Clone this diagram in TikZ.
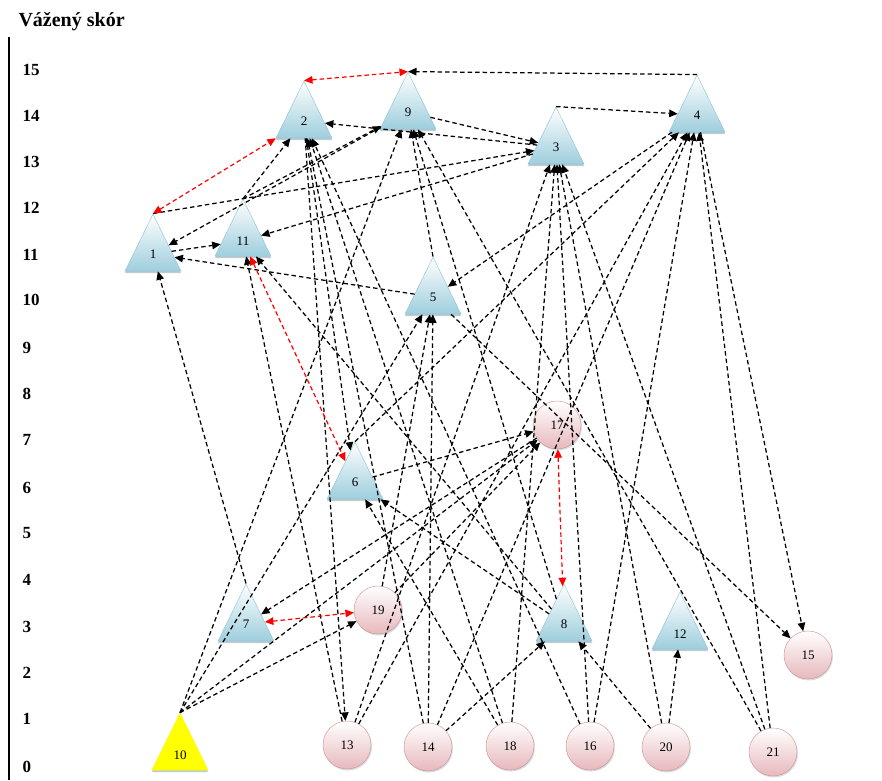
\documentclass[tikz,border=0pt]{standalone}
\usepackage{fontspec}
\setmainfont{Liberation Serif}
\usetikzlibrary{shapes.geometric,arrows.meta,shadows}

\definecolor{triblue}{RGB}{158,206,221}
\definecolor{triline}{RGB}{138,194,212}
\definecolor{circpink}{RGB}{231,184,188}
\definecolor{circline}{RGB}{206,144,144}
\definecolor{shadowgray}{RGB}{150,170,180}

\tikzset{
    tri/.style={isosceles triangle, isosceles triangle stretches, shape border rotate=90,
        minimum width=56, minimum height=57, inner sep=0pt, draw=triline,
        top color=white, bottom color=triblue, font=\fontsize{13}{15}\selectfont,
        drop shadow={shadow xshift=0pt, shadow yshift=-2pt, fill=shadowgray, opacity=0.6}},
    circ/.style={circle, minimum size=48, inner sep=0pt, draw=circline,
        top color=white, bottom color=circpink, font=\fontsize{13}{15}\selectfont,
        drop shadow={shadow xshift=1pt, shadow yshift=-1.5pt, fill=shadowgray, opacity=0.4}},
    axlab/.style={anchor=west, font=\fontsize{17}{20}\selectfont\bfseries},
    arr/.style={black, line width=1.25pt, dash pattern=on 4.5pt off 3pt,
        -{Triangle[length=8.5pt,width=7.5pt]}},
    rarr/.style={red, line width=1.2pt, dash pattern=on 4.5pt off 3pt,
        {Triangle[length=8.5pt,width=7.5pt]}-{Triangle[length=8.5pt,width=7.5pt]}}
}

\begin{document}
\begin{tikzpicture}[x=1pt, y=-1pt]
    \useasboundingbox (0,0) rectangle (882,780);

    % scale
    \draw[line width=2.2pt] (9,37) -- (9,780);
    \node[anchor=west, font=\fontsize{20}{23}\selectfont\bfseries] (title) at (15,22) {Vážený skór};
    \node[axlab] (s15) at (19,70) {15};
    \node[axlab] (s14) at (19,116) {14};
    \node[axlab] (s13) at (19,162) {13};
    \node[axlab] (s12) at (19,208) {12};
    \node[axlab] (s11) at (19,255) {11};
    \node[axlab] (s10) at (19,300) {10};
    \node[axlab] (s9) at (19,348) {9};
    \node[axlab] (s8) at (19,394) {8};
    \node[axlab] (s7) at (19,440) {7};
    \node[axlab] (s6) at (19,488) {6};
    \node[axlab] (s5) at (19,533) {5};
    \node[axlab] (s4) at (19,580) {4};
    \node[axlab] (s3) at (19,627) {3};
    \node[axlab] (s2) at (19,673) {2};
    \node[axlab] (s1) at (19,719) {1};
    \node[axlab] (s0) at (19,767) {0};

    % factors
    \node[tri] (f1) at (153,254) {1};
    \node[tri] (f11) at (243,241) {11};
    \node[tri] (f2) at (304,121) {2};
    \node[tri] (f9) at (408,112) {9};
    \node[tri] (f3) at (556,147) {3};
    \node[tri] (f4) at (697,115) {4};
    \node[tri] (f5) at (433,297) {5};
    \node[tri] (f6) at (355,482) {6};
    \node[tri] (f7) at (246,624) {7};
    \node[tri] (f8) at (564,624) {8};
    \node[tri] (f12) at (680,634) {12};
    \node[tri, top color=yellow, bottom color=yellow, draw=yellow] (f10) at (180,755) {10};

    \node[circ] (f17) at (557,425) {17};
    \node[circ] (f19) at (378,610) {19};
    \node[circ] (f15) at (808,655) {15};
    \node[circ] (f13) at (347,745) {13};
    \node[circ] (f14) at (428,747) {14};
    \node[circ] (f18) at (510,746) {18};
    \node[circ] (f16) at (590,746) {16};
    \node[circ] (f20) at (666,747) {20};
    \node[circ] (f21) at (773,752) {21};

    % influences
    \draw[arr] (f4.apex) -- (f9.apex);
    \draw[arr] (f9) -- (f3);
    \draw[arr] (f3.apex) -- (f4);
    \draw[arr] (f1) -- (f11);
    \draw[arr] (f5) -- (f1);
    \draw[arr] (f7.apex) -- (f1);
    \draw[arr] (f9) -- (f1);
    \draw[arr] (f1.apex) -- (f3);
    \draw[arr] (f3) -- (f2);
    \draw[arr] (f3) -- (f11);
    \draw[arr] (f11.apex) -- (f2);
    \draw[arr] (f11.apex) -- (f9);
    \draw[arr] (f2) -- (f6);
    \draw[arr] (f2) -- (f13);
    \draw[arr] (f14) -- (f2);
    \draw[arr] (f16) -- (f2);
    \draw[arr] (f18) -- (f2);
    \draw[arr] (f13) -- (f11);
    \draw[arr] (f10.apex) -- (f9);
    \draw[arr] (f5.apex) -- (f9);
    \draw[arr] (f8) -- (f9);
    \draw[arr] (f21) -- (f9);
    \draw[arr] (f18) -- (f3);
    \draw[arr] (f20) -- (f3);
    \draw[arr] (f21) -- (f3);
    \draw[arr] (f16) -- (f3);
    \draw[arr] (f13) -- (f3);
    \draw[arr] (f13) -- (f4);
    \draw[arr] (f14) -- (f4);
    \draw[arr] (f16) -- (f4);
    \draw[arr] (f21) -- (f4);
    \draw[arr] (f6.apex) -- (f4);
    \draw[arr] (f4) -- (f5);
    \draw[arr] (f4) -- (f15);
    \draw[arr] (f5) -- (f15);
    \draw[arr] (f17) -- (f7);
    \draw[arr] (f10.apex) -- (f17);
    \draw[arr] (f10.apex) -- (f19);
    \draw[arr] (f10.apex) -- (f5);
    \draw[arr] (f14) -- (f5);
    \draw[arr] (f19) -- (f5);
    \draw[arr] (f6) -- (f17);
    \draw[arr] (f19) -- (f17);
    \draw[arr] (f18) -- (f6);
    \draw[arr] (f8) -- (f6);
    \draw[arr] (f14) -- (f8);
    \draw[arr] (f20) -- (f8);
    \draw[arr] (f8) -- (f11);
    \draw[arr] (f20) -- (f12);

    % mutual links
    \draw[rarr] (f2.apex) -- (f9.apex);
    \draw[rarr] (f1.apex) -- (f2);
    \draw[rarr] (f11) -- (f6);
    \draw[rarr] (f17) -- (f8);
    \draw[rarr] (f7) -- (f19);
\end{tikzpicture}
\end{document}
